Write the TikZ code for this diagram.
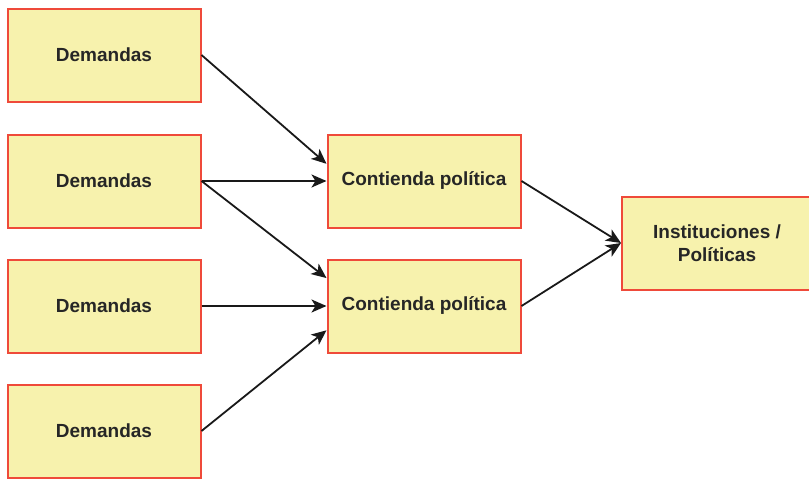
\documentclass[tikz,border=0pt]{standalone}
\usepackage{fontspec}
\setmainfont{Liberation Sans}
\usepackage{tikz}
\usetikzlibrary{arrows.meta,positioning}
\definecolor{boxfill}{HTML}{F7F2AD}
\definecolor{boxline}{HTML}{EF4A3A}

\begin{document}
\begin{tikzpicture}[x=1pt,y=-1pt,
    caja/.style={draw=boxline,fill=boxfill,line width=2pt,minimum width=193pt,minimum height=93pt,
      inner sep=0pt,align=center,text=black!85,font=\fontsize{19}{23}\selectfont\bfseries},
    flecha/.style={line width=1.8pt,black!90,-{Stealth[length=15pt,width=13pt,inset=4pt]}}]
  \useasboundingbox (0,0) rectangle (809,479);
  \foreach \i/\y in {1/55,2/181,3/306,4/431}{\node[caja] (d\i) at (104,\y) {Demandas};}
  \node[caja] (c1) at (424,181) {Contienda política};
  \node[caja] (c2) at (424,306) {Contienda política};
  \node[caja,minimum width=190pt] (inst) at (717,243) {Instituciones /\\Políticas};
  \draw[flecha] (d1.east) -- (c1.170);
  \draw[flecha] (d2.east) -- (c1.west);
  \draw[flecha] (d2.east) -- (c2.164);
  \draw[flecha] (d3.east) -- (c2.west);
  \draw[flecha] (d4.east) -- (c2.194);
  \draw[flecha] (c1.east) -- (inst.west);
  \draw[flecha] (c2.east) -- (inst.west);
\end{tikzpicture}
\end{document}
